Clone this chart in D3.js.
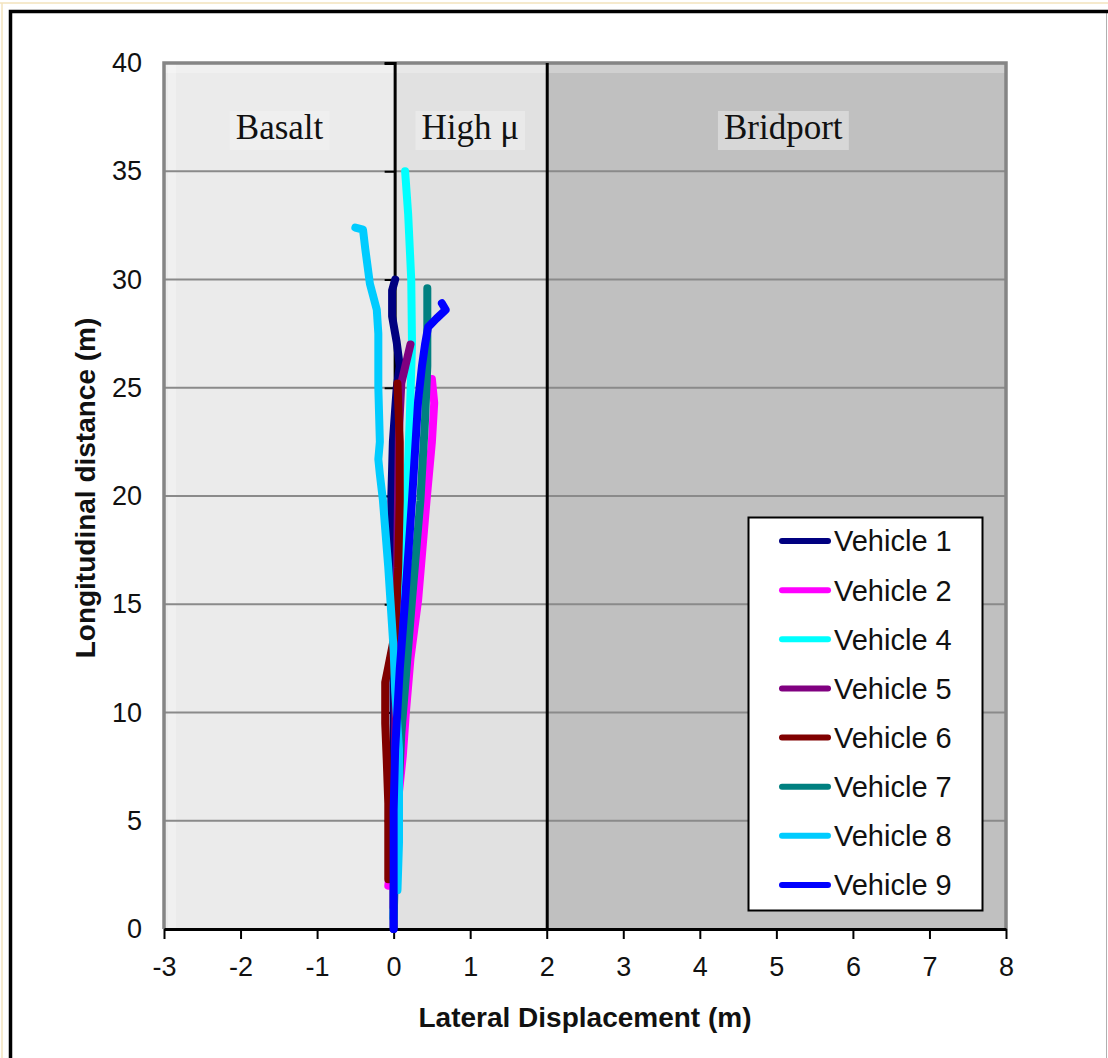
<!DOCTYPE html>
<html>
<head>
<meta charset="utf-8">
<script src="https://cdn.jsdelivr.net/npm/d3@7"></script>
<style>
  body { margin: 0; background: #fff; }
  svg { display: block; }
</style>
</head>
<body>
<svg id="chart" width="1108" height="1058"></svg>
<script>
// lateral (m), longitudinal (m) pairs
const vehicle1 = [[0,0],[0,5],[0,10],[-0.01,15],[-0.03,17],[-0.03,20],[-0.01,22.5],[0.04,25],[0.08,26],[0.04,27.1],[-0.02,28.3],[-0.02,29.5],[0.02,30]];
const vehicle2 = [[-0.07,2],[0,4],[0.06,6],[0.12,8],[0.16,10],[0.22,12.5],[0.32,15.2],[0.43,19.8],[0.5,22.5],[0.53,24.3],[0.5,25.4]];
const vehicle4 = [[0,0.5],[0.02,5],[0.06,10],[0.11,15],[0.17,19.8],[0.21,23.5],[0.24,27],[0.23,30],[0.19,33],[0.15,35]];
const vehicle5 = [[0,1],[0.01,6],[0.03,12],[0.05,18],[0.07,23],[0.1,25.2],[0.22,27]];
const vehicle6 = [[-0.07,2.3],[-0.07,5.8],[-0.09,7.8],[-0.11,9.5],[-0.11,11.4],[-0.07,12.1],[0.02,13.7],[0.06,16.7],[0.08,19.8],[0.08,22.5],[0.05,25.2]];
const vehicle7 = [[0,0.5],[0.02,3],[0.06,6],[0.1,9],[0.17,12.1],[0.24,15.2],[0.35,19.8],[0.41,23.5],[0.44,26],[0.44,29.6]];
const vehicle8 = [[0.05,1.8],[0.07,4],[0.07,8.3],[0.02,11],[0,12.9],[-0.07,16.7],[-0.14,19.8],[-0.18,21],[-0.2,21.7],[-0.18,22.5],[-0.2,25],[-0.2,27.5],[-0.22,28.6],[-0.31,29.8],[-0.37,31.4],[-0.4,32.3],[-0.5,32.4]];
const vehicle9 = [[0,0],[0,3],[0,5.5],[0.02,8.3],[0.08,12],[0.15,15.2],[0.24,19.8],[0.32,24.4],[0.37,26],[0.41,27],[0.45,27.8],[0.56,28.2],[0.68,28.6],[0.63,28.9]];

const seriesNames = ["Vehicle 1", "Vehicle 2", "Vehicle 4", "Vehicle 5", "Vehicle 6", "Vehicle 7", "Vehicle 8", "Vehicle 9"];
const seriesData = [vehicle1, vehicle2, vehicle4, vehicle5, vehicle6, vehicle7, vehicle8, vehicle9];
const seriesColors = ["#000080", "#ff00ff", "#00ffff", "#800080", "#800000", "#008080", "#00ccff", "#0000ff"];

// road surfaces
const zoneNames = ["Basalt", "High \u03bc", "Bridport"];
const zoneStart = [-3, 0, 2];
const zoneEnd = [0, 2, 8];
const zoneFill = ["#ebebeb", "#e1e1e1", "#c0c0c0"];
const zoneLabelX = [-1.49, 1.0, 5.09];

const xTicks = [-3, -2, -1, 0, 1, 2, 3, 4, 5, 6, 7, 8];
const yTicks = [0, 5, 10, 15, 20, 25, 30, 35, 40];

const svg = d3.select("#chart");
const plotLeft = 164, plotRight = 1006, plotTop = 63, plotBottom = 929;

const x = d3.scaleLinear().domain([-3, 8]).range([plotLeft, plotRight]);
const y = d3.scaleLinear().domain([0, 40]).range([plotBottom, plotTop]);

// outer frame
svg.append("line").attr("x1", 0).attr("x2", 1108).attr("y1", 3).attr("y2", 3)
    .attr("stroke", "#f3e3bd").attr("stroke-width", 1.5);
svg.append("line").attr("x1", 2).attr("x2", 2).attr("y1", 3).attr("y2", 1058)
    .attr("stroke", "#f3e3bd").attr("stroke-width", 1.5);
svg.append("line").attr("x1", 1106.5).attr("x2", 1106.5).attr("y1", 13).attr("y2", 1058)
    .attr("stroke", "#b0b0b0").attr("stroke-width", 1);
svg.append("path").attr("d", "M10.5,1058 V11.5 H1108")
    .attr("fill", "none").attr("stroke", "#000").attr("stroke-width", 3.5);

// zone backgrounds
svg.append("g").selectAll("rect")
    .data(zoneNames)
    .enter().append("rect")
    .attr("x", (d, i) => x(zoneStart[i]))
    .attr("width", (d, i) => x(zoneEnd[i]) - x(zoneStart[i]))
    .attr("y", plotTop)
    .attr("height", plotBottom - plotTop)
    .attr("fill", (d, i) => zoneFill[i]);

// lighter strip at the left edge and under the top border
svg.append("rect").attr("x", plotLeft + 4).attr("y", plotTop).attr("width", 8).attr("height", plotBottom - plotTop)
    .attr("fill", "#f2f2f2").attr("opacity", 0.7);
svg.append("rect").attr("x", plotLeft).attr("y", plotTop + 2).attr("width", plotRight - plotLeft).attr("height", 8)
    .attr("fill", "#fff").attr("opacity", 0.25);

// horizontal gridlines
svg.append("g").selectAll("line")
    .data(yTicks.filter(t => t > 0 && t < 40))
    .enter().append("line")
    .attr("x1", plotLeft).attr("x2", plotRight)
    .attr("y1", d => y(d)).attr("y2", d => y(d))
    .attr("stroke", "#8a8a8a").attr("stroke-width", 2);

// plot border (grey)
svg.append("path")
    .attr("d", `M${plotLeft},${plotBottom} V${plotTop} H${plotRight} V${plotBottom}`)
    .attr("fill", "none").attr("stroke", "#858585").attr("stroke-width", 3.5);

// zone labels with their little boxes
const labels = svg.append("g");
zoneNames.forEach((name, i) => {
    const t = labels.append("text")
        .attr("x", x(zoneLabelX[i]))
        .attr("y", 139)
        .attr("text-anchor", "middle")
        .style("font-family", "'Liberation Serif', 'Times New Roman', serif")
        .style("font-size", "35px")
        .style("fill", "#111")
        .text(name);
    const bb = t.node().getBBox();
    labels.insert("rect", "text")
        .attr("x", bb.x - 6).attr("y", bb.y + 3)
        .attr("width", bb.width + 12).attr("height", bb.height)
        .attr("fill", "#f4f4f4").attr("opacity", 0.45);
});

// black divider at x = 2
svg.append("line")
    .attr("x1", x(2) + 0.5).attr("x2", x(2) + 0.5)
    .attr("y1", plotTop).attr("y2", plotBottom)
    .attr("stroke", "#000").attr("stroke-width", 3);

// secondary axis at x = 0 with left ticks
const zeroAxis = svg.append("g").attr("transform", `translate(${x(0) + 1},0)`)
    .call(d3.axisLeft(y).tickValues(yTicks).tickSize(10).tickFormat(""));
zeroAxis.select(".domain").attr("stroke", "#000").attr("stroke-width", 3);
zeroAxis.selectAll(".tick line").attr("stroke", "#000").attr("stroke-width", 2);

// x axis
const xAxis = svg.append("g").attr("transform", `translate(0,${plotBottom})`)
    .call(d3.axisBottom(x).tickValues(xTicks).tickSize(10).tickPadding(18).tickSizeOuter(0)
        .tickFormat(d => String(d)));
xAxis.select(".domain").attr("stroke", "#000").attr("stroke-width", 3);
xAxis.selectAll(".tick line").attr("stroke", "#000").attr("stroke-width", 2);
xAxis.selectAll("text")
    .style("font-family", "'Liberation Sans', Arial, sans-serif")
    .style("font-size", "27px")
    .style("fill", "#111");

// y axis labels (no ticks drawn on the left edge)
const yAxis = svg.append("g").attr("transform", `translate(${plotLeft},0)`)
    .call(d3.axisLeft(y).tickValues(yTicks).tickSize(0).tickPadding(22));
yAxis.select(".domain").remove();
yAxis.selectAll("text")
    .style("font-family", "'Liberation Sans', Arial, sans-serif")
    .style("font-size", "27px")
    .style("fill", "#111");

// axis titles
svg.append("text")
    .attr("x", 585).attr("y", 1027)
    .attr("text-anchor", "middle")
    .style("font-family", "'Liberation Sans', Arial, sans-serif")
    .style("font-weight", "bold")
    .style("font-size", "28px")
    .style("fill", "#111")
    .text("Lateral Displacement (m)");

svg.append("text")
    .attr("transform", "translate(95,488) rotate(-90)")
    .attr("text-anchor", "middle")
    .style("font-family", "'Liberation Sans', Arial, sans-serif")
    .style("font-weight", "bold")
    .style("font-size", "28px")
    .style("fill", "#111")
    .text("Longitudinal distance (m)");

// vehicle paths
const line = d3.line()
    .x(d => x(d[0]))
    .y(d => y(d[1]));

svg.append("g").selectAll("path")
    .data(seriesData)
    .enter().append("path")
    .attr("d", line)
    .attr("fill", "none")
    .attr("stroke", (d, i) => seriesColors[i])
    .attr("stroke-width", 8)
    .attr("stroke-linejoin", "round")
    .attr("stroke-linecap", "round");

// legend
const legend = svg.append("g");
legend.append("rect")
    .attr("x", 748.5).attr("y", 517.5)
    .attr("width", 234).attr("height", 393)
    .attr("fill", "#fff")
    .attr("stroke", "#000").attr("stroke-width", 2);

const rowY = d3.scaleLinear().domain([0, 7]).range([541, 885]);

const item = legend.selectAll("g")
    .data(seriesNames)
    .enter().append("g")
    .attr("transform", (d, i) => `translate(0,${rowY(i)})`);

item.append("line")
    .attr("x1", 782).attr("x2", 828)
    .attr("stroke", (d, i) => seriesColors[i])
    .attr("stroke-width", 6)
    .attr("stroke-linecap", "round");

item.append("text")
    .attr("x", 834).attr("dy", "0.36em")
    .style("font-family", "'Liberation Sans', Arial, sans-serif")
    .style("font-size", "29px")
    .style("fill", "#111")
    .text(d => d);
</script>
</body>
</html>
